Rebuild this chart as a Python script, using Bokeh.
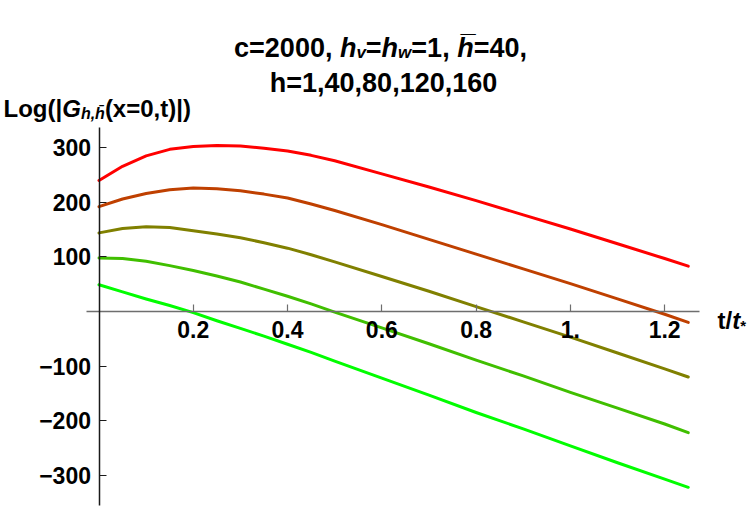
from bokeh.plotting import figure
from bokeh.models import Range1d, LinearAxis, FixedTicker, Label, Grid
from bokeh.embed import file_html
from bokeh.resources import INLINE

# ---------------- data ----------------
t = [0, 0.05, 0.1, 0.15, 0.2, 0.25, 0.3, 0.35, 0.4, 0.45, 0.5, 0.6, 0.7, 0.8, 0.9, 1.0, 1.1, 1.2, 1.25]
h_values = [1, 40, 80, 120, 160]
g_h1 = [49, 36, 23, 11, -2, -17, -31, -45, -60, -75, -91, -122, -153, -185, -215, -246, -277, -307, -322]
g_h40 = [98, 97, 92, 84, 75, 65, 54, 41, 28, 14, -1, -30, -59, -89, -118, -148, -177, -206, -222]
g_h80 = [144, 152, 155, 154, 148, 142, 135, 126, 116, 104, 91, 64, 37, 9, -19, -47, -76, -105, -120]
g_h120 = [192, 206, 216, 223, 226, 225, 221, 215, 208, 197, 185, 159, 132, 105, 78, 51, 23, -5, -20]
g_h160 = [240, 266, 285, 297, 302, 304, 303, 299, 294, 286, 276, 252, 228, 203, 177, 151, 124, 97, 83]
series = [g_h1, g_h40, g_h80, g_h120, g_h160]

x_ticks = [0.2, 0.4, 0.6, 0.8, 1.0, 1.2]
x_tick_labels = ["0.2", "0.4", "0.6", "0.8", "1.", "1.2"]
y_ticks = [-300, -200, -100, 100, 200, 300]
y_tick_labels = ["\u2212300", "\u2212200", "\u2212100", "100", "200", "300"]
x_axis_extent = (-0.026, 1.274)
y_axis_extent = (-355.3, 337)

# ---------------- styles / layout ----------------
colors = ["#02FD00", "#40BF00", "#808000", "#BF4000", "#FF0000"]
FONT = "Liberation Sans"
W, H = 750, 509
X0PX, XSC = 98.5, 471.4      # canvas px of t=0, px per unit t
Y0PX, YSC = 311.0, 0.546     # canvas px of value 0, px per unit value

p = figure(width=W, height=H, output_backend="svg", toolbar_location=None,
           x_range=Range1d(-X0PX / XSC, (W - X0PX) / XSC),
           y_range=Range1d(-(H - Y0PX) / YSC, Y0PX / YSC),
           x_axis_location=None, y_axis_location=None,
           min_border_left=0, min_border_right=0, min_border_top=0, min_border_bottom=0)
p.outline_line_color = None
p.background_fill_color = "white"
for r in list(p.center):
    if isinstance(r, Grid):
        r.visible = False

for ys, c in zip(series, colors):
    p.line(t, ys, line_width=3, line_color=c, line_join="round", line_cap="round")

xaxis = LinearAxis(fixed_location=0, ticker=FixedTicker(ticks=x_ticks), bounds=x_axis_extent,
                   major_label_overrides={k: v for k, v in zip(x_ticks, x_tick_labels)})
yaxis = LinearAxis(fixed_location=0, ticker=FixedTicker(ticks=y_ticks), bounds=y_axis_extent,
                   major_label_overrides={k: v for k, v in zip(y_ticks, y_tick_labels)})
for ax, col in ((xaxis, "#6e6e6e"), (yaxis, "#1a1a1a")):
    ax.axis_line_color = col
    ax.axis_line_width = 1.5
    ax.major_tick_line_color = col
    ax.major_tick_line_width = 1.2
    ax.major_tick_in = 7
    ax.major_tick_out = 0
    ax.minor_tick_line_color = None
    ax.major_label_text_font = FONT
    ax.major_label_text_font_style = "bold"
    ax.major_label_text_font_size = "23px"
    ax.major_label_text_color = "black"
xaxis.major_label_standoff = 9
yaxis.major_label_standoff = 8
p.add_layout(xaxis, "below")
p.add_layout(yaxis, "left")

# ---------------- rich text helpers ----------------
WID = {" ": 278, ",": 278, ".": 278, "(": 333, ")": 333, "|": 280, "/": 278, "*": 389,
       "=": 584, "c": 556, "h": 611, "v": 556, "w": 778, "x": 556, "t": 333, "L": 611,
       "o": 611, "g": 611, "G": 778, "\u0305": 0, "\u0304": 0}
for d in "0123456789":
    WID[d] = 556


def text_width(s, size):
    return sum(WID.get(ch, 556) for ch in s) * size / 1000.0


def rich(pieces, x, base, align="left"):
    total = sum(text_width(s, sz) for s, sz, st, dy in pieces)
    if align == "center":
        x = x - total / 2.0
    for s, sz, st, dy in pieces:
        p.add_layout(Label(x=x, y=H - (base + dy), x_units="screen", y_units="screen",
                           text=s, text_font=FONT, text_font_size=f"{sz}px",
                           text_font_style=st, text_color="black",
                           text_align="left", text_baseline="alphabetic"))
        x += text_width(s, sz)


TS = 27
SUB = 17
rich([("c=2000, ", TS, "bold", 0), ("h", TS, "bold italic", 0), ("v", SUB, "bold italic", 5),
      ("=", TS, "bold", 0), ("h", TS, "bold italic", 0), ("w", SUB, "bold italic", 5),
      ("=1, ", TS, "bold", 0), ("h\u0305", TS, "bold italic", 0), ("=40,", TS, "bold", 0)],
     380, 47, align="center")
rich([("h=1,40,80,120,160", TS, "bold", 0)], 383, 82, align="center")

YS = 24
rich([("Log(|", YS, "bold", 0), ("G", YS, "bold italic", 0), ("h,h\u0304", 16, "bold italic", 5),
      ("(x=0,t)|)", YS, "bold", 0)], 3, 108)

rich([("t/", 24, "bold", 0), ("t", 24, "bold italic", 0), ("*", 15, "bold", 5)], 717, 320)

open("out.html", "w").write(file_html(p, INLINE))
